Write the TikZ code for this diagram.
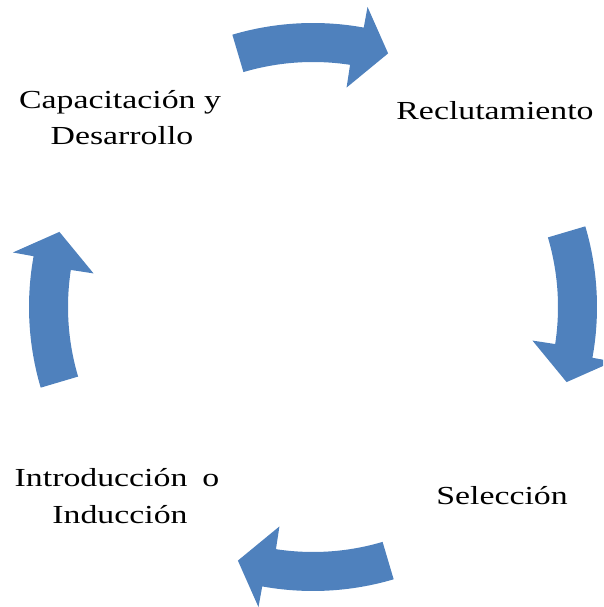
\documentclass[tikz,border=0pt]{standalone}
\usepackage{fontspec}
\setmainfont{Liberation Serif}
\definecolor{arrowblue}{RGB}{79,129,189}
\newcommand{\widetext}[1]{\scalebox{1.3}[1]{#1}}
\begin{document}
\begin{tikzpicture}[x=1pt,y=1pt,
  lbl/.style={font=\fontsize{26}{36}\selectfont, inner sep=0pt, anchor=base},
  cyclearrow/.pic={
    % curved block arrow running clockwise, centred on angle 0
    \fill[arrowblue] (16.5:284pt) arc[start angle=16.5, end angle=-10.3, radius=284pt]
      -- (-10.3:305pt) -- (-16.5:264.5pt) -- (-8.7:222pt) -- (-8.7:245pt)
      arc[start angle=-8.7, end angle=16.5, radius=245pt] -- cycle;
  }]
\useasboundingbox (0,0) rectangle (603,607);
\clip (0,0) rectangle (603,607);
\coordinate (c) at (313,300);

% the four arrows of the cycle
\pic (arrowtop)    at (c) [rotate=90]  {cyclearrow};
\pic (arrowright)  at (c)              {cyclearrow};
\pic (arrowbottom) at (c) [rotate=-90] {cyclearrow};
\pic (arrowleft)   at (c) [rotate=180] {cyclearrow};

% stage labels
\node[lbl] (cap1)   at (120,498) {\widetext{Capacitación y}};
\node[lbl] (cap2)   at (122,462) {\widetext{Desarrollo}};
\node[lbl] (rec)    at (495,487) {\widetext{Reclutamiento}};
\node[lbl] (sel)    at (502,102) {\widetext{Selección}};
\node[lbl] (intro1) at (117,120) {\widetext{Introducción\hspace{5pt} o}};
\node[lbl] (intro2) at (120,83)  {\widetext{Inducción}};
\end{tikzpicture}
\end{document}
